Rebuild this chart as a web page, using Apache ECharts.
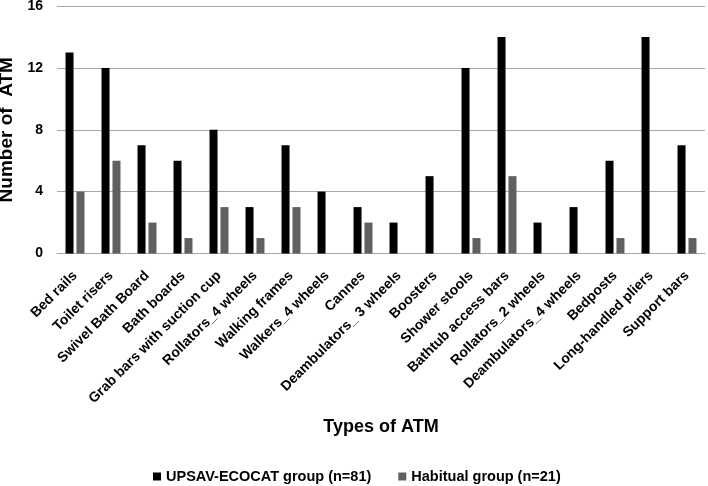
<!DOCTYPE html>
<html><head><meta charset="utf-8">
<script src="https://cdn.jsdelivr.net/npm/echarts@6/dist/echarts.min.js"></script>
<style>html,body{margin:0;padding:0;background:#fff}#c{width:708px;height:486px}</style>
</head><body><div id="c"></div>
<script>
const categories = ["Bed rails","Toilet risers","Swivel Bath Board","Bath boards","Grab bars with suction cup","Rollators_4 wheels","Walking frames","Walkers_4 wheels","Cannes","Deambulators_ 3 wheels","Boosters","Shower stools","Bathtub access bars","Rollators_2 wheels","Deambulators_4 wheels","Bedposts","Long-handled pliers","Support bars"];
const upsav = [13,12,7,6,8,3,7,4,3,2,5,12,14,2,3,6,14,7];
const habitual = [4,6,2,1,3,1,3,0,2,0,0,1,5,0,0,1,0,1];
const yTicks = [0,4,8,12,16];
const seriesNames = ["UPSAV-ECOCAT group (n=81)","Habitual group (n=21)"];

const F = "'Liberation Sans', Arial, sans-serif";
const chart = echarts.init(document.getElementById('c'));
chart.setOption({
  animation: false,
  textStyle: {fontFamily: F},
  grid: {left: 57, right: 3, top: 6, bottom: 232.5, containLabel: false, outerBoundsMode: 'none'},
  legend: {
    top: 464, left: 148, itemGap: 27, itemWidth: 8, itemHeight: 8, icon: 'rect',
    textStyle: {fontFamily: F, fontWeight: 'bold', fontSize: 14.5, color: '#000'},
    data: seriesNames
  },
  xAxis: {
    type: 'category', data: categories,
    name: 'Types of ATM', nameLocation: 'middle', nameGap: 165,
    nameTextStyle: {fontFamily: F, fontWeight: 'bold', fontSize: 18, color: '#000'},
    axisLine: {lineStyle: {color: '#a6a6a6', width: 1}},
    axisTick: {show: false},
    axisLabel: {interval: 0, rotate: 45, margin: 20, fontFamily: F, fontWeight: 'bold', fontSize: 14, color: '#000'}
  },
  yAxis: {
    type: 'value', min: 0, max: 16, interval: 4,
    name: 'Number of  ATM', nameLocation: 'middle', nameGap: 38,
    nameTextStyle: {fontFamily: F, fontWeight: 'bold', fontSize: 19, color: '#000'},
    axisLine: {show: false}, axisTick: {show: false},
    axisLabel: {margin: 14, fontFamily: F, fontWeight: 'bold', fontSize: 14, color: '#000',
      formatter: v => yTicks.includes(v) ? String(v) : ''},
    splitLine: {lineStyle: {color: '#a6a6a6', width: 1}}
  },
  series: [
    {name: seriesNames[0], type: 'bar', data: upsav, barWidth: 8, barGap: '37%', itemStyle: {color: '#000'}},
    {name: seriesNames[1], type: 'bar', data: habitual, barWidth: 8, itemStyle: {color: '#606060'}}
  ]
});
</script></body></html>
